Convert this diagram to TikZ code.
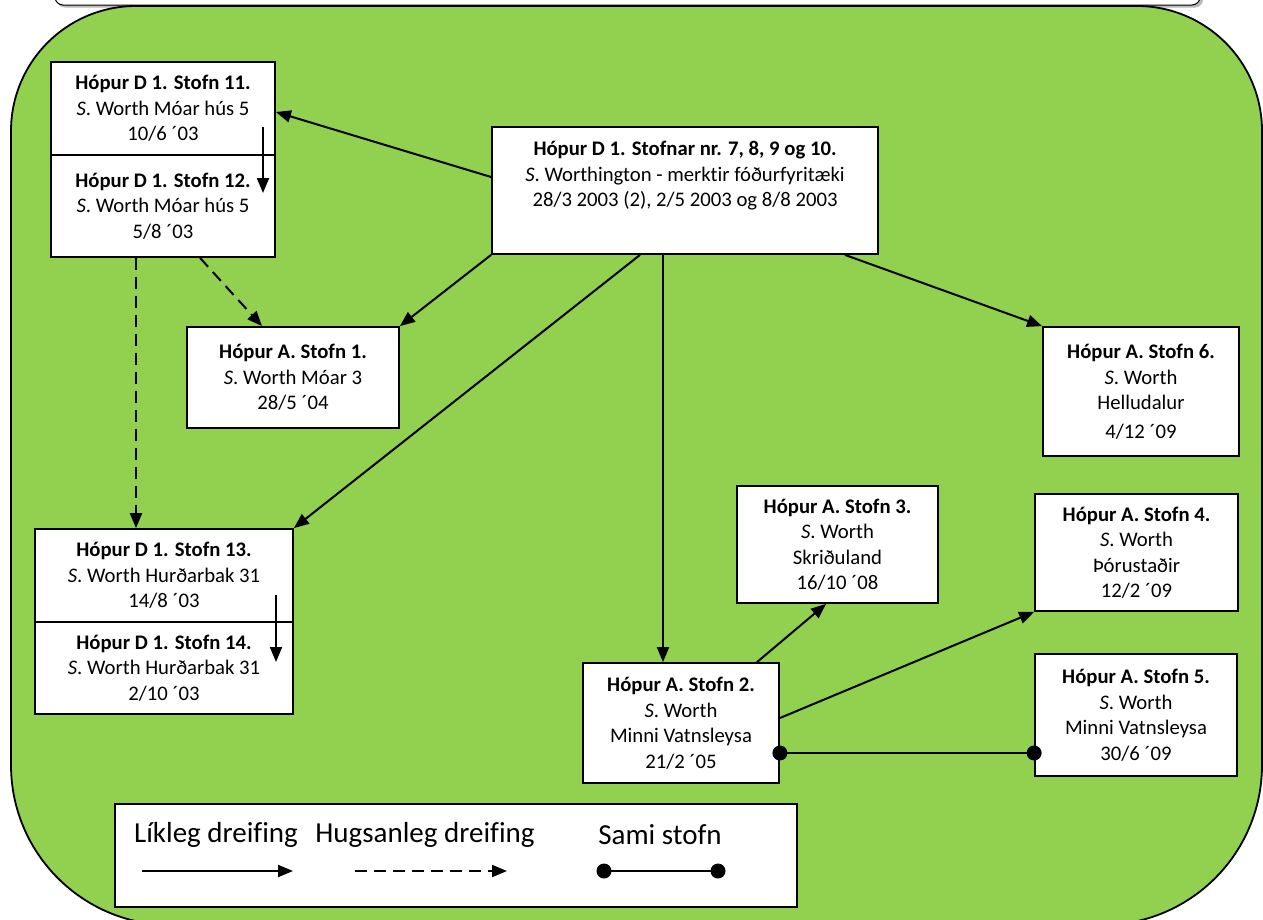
\documentclass[tikz,border=0pt]{standalone}
\usepackage{fontspec}
\setmainfont{Carlito}[Ligatures=NoCommon]
\usetikzlibrary{arrows.meta}
\definecolor{lgreen}{HTML}{92D050}
\begin{document}
\begin{tikzpicture}[x=1pt,y=-1pt,
  box/.style={draw=black, line width=1.8pt, fill=white, inner sep=0pt, align=center,
    font=\fontsize{20.7}{25.5}\selectfont},
  arr/.style={line width=2pt, -{Triangle[length=15pt,width=12pt]}},
  darr/.style={arr, dash pattern=on 12pt off 7pt},
  same/.style={line width=2pt},
  dot/.style={circle, fill=black, inner sep=0pt, minimum size=15pt},
  legtext/.style={inner sep=0pt, font=\fontsize{29}{34}\selectfont}]
\useasboundingbox (0,0) rectangle (1263,919);
% top white box
\fill[gray!55, rounded corners=8pt] (57,-40) rectangle (1203,7.5);
\draw[fill=white, line width=1pt, rounded corners=8pt] (55,-40) rectangle (1200,5);
% green background
\draw[fill=lgreen, line width=1.8pt] (11,765) -- (11,131) arc[start angle=180, end angle=270, radius=125]
  -- (1137,6) arc[start angle=270, end angle=360, radius=125]
  -- (1262,765) arc[start angle=0, end angle=90, radius=160]
  -- (171,925) arc[start angle=90, end angle=180, radius=160] -- cycle;

% boxes
\node[box, minimum width=224pt, minimum height=93pt] (b11) at (163,108.5)
  {\textbf{Hópur D 1. Stofn 11.}\\\textit{S}. Worth Móar hús 5\\10/6 ´03};
\node[box, minimum width=224pt, minimum height=102pt] (b12) at (163,206)
  {\textbf{Hópur D 1. Stofn 12.}\\\textit{S}. Worth Móar hús 5\\5/8 ´03};
\node[box, minimum width=386pt, minimum height=127pt] (d7) at (685,190.5)
  {\textbf{Hópur D 1. Stofnar nr. 7, 8, 9 og 10.}\\\textit{S}. Worthington - merktir fóðurfyritæki\\28/3 2003 (2), 2/5 2003 og 8/8 2003\\\strut};
\node[box, minimum width=212pt, minimum height=101pt] (a1) at (293,377.5)
  {\textbf{Hópur A. Stofn 1.}\\\textit{S}. Worth Móar 3\\28/5 ´04};
\node[box, minimum width=196pt, minimum height=129pt] (a6) at (1141,391.5)
  {\textbf{Hópur A. Stofn 6.}\\\textit{S}. Worth\\Helludalur\\[3pt]4/12 ´09};
\node[box, minimum width=258pt, minimum height=93pt] (b13) at (164,575.5)
  {\textbf{Hópur D 1. Stofn 13.}\\\textit{S}. Worth Hurðarbak 31\\14/8 ´03};
\node[box, minimum width=258pt, minimum height=92pt] (b14) at (164,668)
  {\textbf{Hópur D 1. Stofn 14.}\\\textit{S}. Worth Hurðarbak 31\\2/10 ´03};
\node[box, minimum width=201pt, minimum height=117pt] (a3) at (837.5,544.5)
  {\textbf{Hópur A. Stofn 3.}\\\textit{S}. Worth\\Skriðuland\\16/10 ´08};
\node[box, minimum width=203pt, minimum height=117pt] (a4) at (1136.5,552.5)
  {\textbf{Hópur A. Stofn 4.}\\\textit{S}. Worth\\Þórustaðir\\12/2 ´09};
\node[box, minimum width=202pt, minimum height=122pt] (a5) at (1136,715)
  {\textbf{Hópur A. Stofn 5.}\\\textit{S}. Worth\\Minni Vatnsleysa\\30/6 ´09};
\node[box, minimum width=196pt, minimum height=120pt] (a2) at (681,723)
  {\textbf{Hópur A. Stofn 2.}\\\textit{S}. Worth\\Minni Vatnsleysa\\21/2 ´05};

% connectors
\draw[arr] ([yshift=13.5pt]d7.west) -- ([yshift=-3.5pt]b11.east);
\draw[arr] (d7.south west) -- (a1.north east);
\draw[arr] ([xshift=-45pt]d7.south) -- (b13.north east);
\draw[arr] ([xshift=-22pt]d7.south) -- ([xshift=-18pt]a2.north);
\draw[arr] ([xshift=160pt]d7.south) -- (a6.north west);
\draw[darr] ([xshift=37pt]b12.south) -- ([xshift=-31pt]a1.north);
\draw[darr] ([xshift=-27pt]b12.south) -- ([xshift=-28pt]b13.north);
\draw[arr] ([xshift=100pt,yshift=-18.5pt]b11.center) -- ([xshift=100pt,yshift=13pt]b12.center);
\draw[arr] ([xshift=112pt,yshift=-19.5pt]b13.center) -- ([xshift=112pt,yshift=6pt]b14.center);
\draw[arr] ([xshift=76pt]a2.north) -- ([xshift=-11.5pt]a3.south);
\draw[arr] ([yshift=5pt]a2.east) -- (a4.south west);
\draw[same] ([yshift=-30pt]a2.east) node[dot] (s1) {} -- ([yshift=-38pt]a5.west) node[dot] (s2) {};

% legend
\node[draw=black, line width=1.8pt, fill=white, minimum width=682pt, minimum height=103pt, inner sep=0pt] (leg) at (456,855.5) {};
\node[legtext] (l1) at (216,835) {Líkleg dreifing};
\node[legtext] (l2) at (425,835) {Hugsanleg dreifing};
\node[legtext] (l3) at (660,835) {Sami stofn};
\coordinate (l1a) at (142,871);
\coordinate (l1b) at (293,871);
\coordinate (l2a) at (355,871);
\coordinate (l2b) at (507,871);
\draw[arr] (l1a) -- (l1b);
\draw[darr] (l2a) -- (l2b);
\draw[same] (604,871) node[dot] (l3a) {} -- (718,871) node[dot] (l3b) {};
\end{tikzpicture}
\end{document}
